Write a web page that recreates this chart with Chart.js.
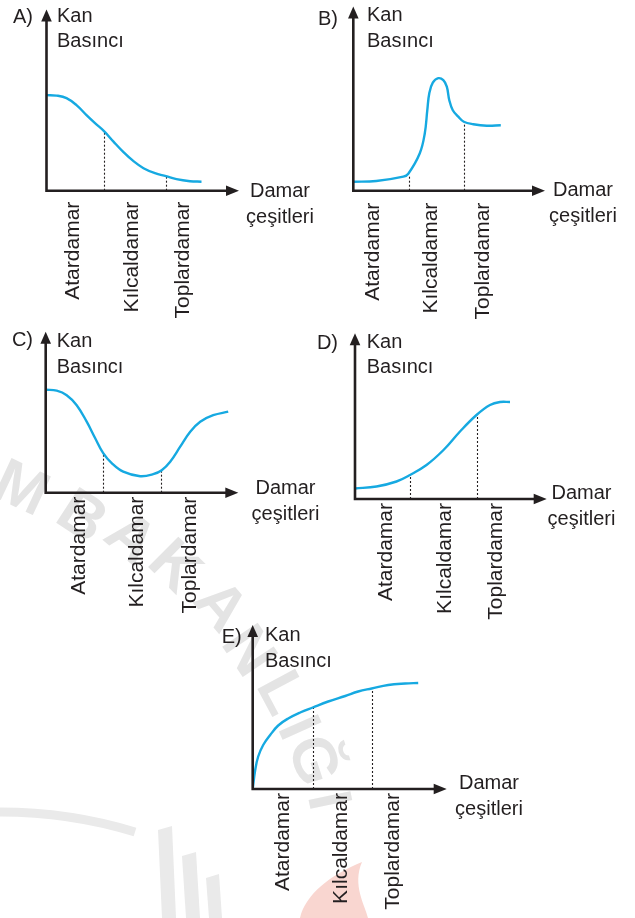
<!DOCTYPE html>
<html>
<head>
<meta charset="utf-8">
<script src="https://cdn.jsdelivr.net/npm/chart.js@4.4.1/dist/chart.umd.min.js"></script>
<style>
  html, body { margin: 0; padding: 0; background: #fff; }
  #page { position: relative; width: 635px; height: 918px; overflow: hidden; }
  #page canvas, #page svg { position: absolute; left: 0; top: 0; }
  .wm { position: absolute; color: #e4e4e4; font: bold 62px "Liberation Sans", Arial, sans-serif;
        transform-origin: center; line-height: 1; }
</style>
</head>
<body>
<div id="page">
  <svg width="635" height="918">
    <path d="M0,812 Q70,812 135,832" fill="none" stroke="#eaeaea" stroke-width="9"/>
    <polygon points="158,830 172,826 176,918 162,918" fill="#eaeaea"/>
    <polygon points="182,856 196,852 200,918 186,918" fill="#eaeaea"/>
    <polygon points="206,878 219,874 222,918 209,918" fill="#eaeaea"/>
    <path d="M300,918 C305,895 330,875 362,862 C352,885 365,905 368,918 Z" fill="#f9d6d0"/>
  </svg>
</div>
<script>
const INK = "#231f20";
const BLUE = "#16a9e1";
const FONT = "Liberation Sans";

// tick labels, shared by all five graphs
const vesselTypes = ["Atardamar", "Kılcaldamar", "Toplardamar"];

// curves (x along the vessel axis, y = blood pressure, arbitrary units)
const aX = [0, 1.0, 2.0, 3.0, 4.0, 4.85, 5.75, 6.7, 7.7, 8.7, 9.7, 10.85, 11.95, 13.0, 14.35, 15.5];
const aY = [9.55, 9.5, 9.25, 8.55, 7.55, 6.75, 5.95, 4.9, 3.85, 2.95, 2.25, 1.75, 1.45, 1.15, 0.95, 0.9];
const aBorderX = [5.75, 11.95];
const aBorderY = [5.95, 1.45];

const bX = [0, 2.3, 5, 5.5, 6.65, 7.15, 7.4, 7.6, 7.95, 8.5, 9, 9.35, 9.6, 9.95, 10.5, 11.05, 12, 13.35, 14.75];
const bY = [0.9, 0.97, 1.4, 1.7, 3.75, 5.75, 8.05, 9.75, 10.8, 11.25, 11.05, 10.4, 9.05, 8.05, 7.4, 6.9, 6.65, 6.5, 6.55];
const bBorderX = [5.55, 11.05];
const bBorderY = [1.6, 6.9];

const cX = [0, 1.1, 2.1, 3.1, 4.1, 4.95, 5.75, 6.6, 7.75, 9.45, 10.75, 11.6, 12.45, 13.45, 14.45, 15.45, 16.75, 18.25];
const cY = [10.3, 10.2, 9.75, 8.75, 7.1, 5.45, 3.95, 2.95, 2.1, 1.65, 1.85, 2.25, 3.1, 4.6, 6.1, 7.1, 7.75, 8.1];
const cBorderX = [5.75, 11.55];
const cBorderY = [3.95, 2.25];

const dX = [0, 2.15, 4.15, 5.5, 7.15, 8.85, 10.5, 12.15, 13.5, 14.5, 15.5];
const dY = [1.05, 1.25, 1.75, 2.4, 3.4, 4.9, 6.75, 8.4, 9.4, 9.7, 9.7];
const dBorderX = [5.5, 12.15];
const dBorderY = [2.4, 8.4];

const eX = [0, 0.25, 0.55, 1.05, 1.75, 2.55, 3.55, 4.75, 6.0, 7.55, 9.25, 10.55, 11.9, 13.55, 15.25, 16.55];
const eY = [0, 1.9, 3.25, 4.4, 5.4, 6.35, 7.05, 7.65, 8.15, 8.75, 9.3, 9.75, 10.05, 10.4, 10.55, 10.6];
const eBorderX = [6.0, 11.9];
const eBorderY = [8.15, 10.05];

// page layout of each graph (pixels)
const panels = [
  { name: "A)", xs: aX, ys: aY, bx: aBorderX, by: aBorderY, xMax: 19.25, yMax: 18.1, ticksAt: [2.65, 8.55, 13.65],
    axisX: 46.5, axisY: 190.7, yTip: 9.5, xTip: 239, tickPad: 11,
    letter: [33, 23], yTitle: [57, 21.5], xTitle: [280, 197.3] },
  { name: "B)", xs: bX, ys: bY, bx: bBorderX, by: bBorderY, xMax: 19.17, yMax: 18.42, ticksAt: [2.0, 7.84, 13.0],
    axisX: 353.3, axisY: 190.7, yTip: 6.5, xTip: 545, tickPad: 12,
    letter: [338, 25], yTitle: [367, 21], xTitle: [583, 196] },
  { name: "C)", xs: cX, ys: cY, bx: cBorderX, by: cBorderY, xMax: 19.26, yMax: 16.1, ticksAt: [3.33, 9.16, 14.43],
    axisX: 45.7, axisY: 492.7, yTip: 331.7, xTip: 238.3, tickPad: 4,
    letter: [33, 346], yTitle: [56.7, 347], xTitle: [285.5, 494.3] },
  { name: "D)", xs: dX, ys: dY, bx: dBorderX, by: dBorderY, xMax: 19.17, yMax: 16.57, ticksAt: [3.17, 9.0, 14.1],
    axisX: 355, axisY: 499, yTip: 333.3, xTip: 546.7, tickPad: 4,
    letter: [338, 349], yTitle: [366.7, 347.5], xTitle: [581.5, 499.3] },
  { name: "E)", xs: eX, ys: eY, bx: eBorderX, by: eBorderY, xMax: 19.4, yMax: 16.4, ticksAt: [3.06, 8.9, 14.06],
    axisX: 252.7, axisY: 789, yTip: 625, xTip: 446.7, tickPad: 4,
    letter: [241.7, 643], yTitle: [265, 641.3], xTitle: [489, 789.3] },
];

// arrows, dotted guide lines and the axis captions
const decor = {
  id: "decor",
  beforeDatasetsDraw(chart, args, p) {
    const { ctx, scales: { x, y } } = chart;
    ctx.save();
    ctx.strokeStyle = INK;
    ctx.lineWidth = 1.1;
    ctx.setLineDash([2, 2]);
    p.bx.forEach((v, i) => {
      const px = Math.round(x.getPixelForValue(v)) + 0.5;
      ctx.beginPath();
      ctx.moveTo(px, y.getPixelForValue(0));
      ctx.lineTo(px, y.getPixelForValue(p.by[i]));
      ctx.stroke();
    });
    ctx.restore();
  },
  afterDatasetsDraw(chart, args, p) {
    const { ctx, chartArea: a } = chart;
    ctx.save();
    ctx.strokeStyle = INK;
    ctx.fillStyle = INK;
    ctx.lineWidth = 2.6;
    ctx.beginPath();
    ctx.moveTo(a.left, a.top + 10);
    ctx.lineTo(a.left, a.bottom);
    ctx.lineTo(a.right - 10, a.bottom);
    ctx.stroke();
    // arrow heads
    ctx.beginPath();
    ctx.moveTo(a.left, a.top);
    ctx.lineTo(a.left - 5.3, a.top + 12);
    ctx.lineTo(a.left + 5.3, a.top + 12);
    ctx.closePath();
    ctx.fill();
    ctx.beginPath();
    ctx.moveTo(a.right, a.bottom);
    ctx.lineTo(a.right - 13, a.bottom - 5.3);
    ctx.lineTo(a.right - 13, a.bottom + 5.3);
    ctx.closePath();
    ctx.fill();

    ctx.font = `20px "${FONT}"`;
    ctx.textBaseline = "alphabetic";
    ctx.textAlign = "right";
    ctx.fillText(p.name, p.letter[0], p.letter[1]);
    ctx.textAlign = "left";
    ctx.fillText("Kan", p.yTitle[0], p.yTitle[1]);
    ctx.fillText("Basıncı", p.yTitle[0], p.yTitle[1] + 25.5);
    ctx.textAlign = "center";
    ctx.fillText("Damar", p.xTitle[0], p.xTitle[1]);
    ctx.fillText("çeşitleri", p.xTitle[0], p.xTitle[1] + 25.5);
    ctx.restore();
  },
};

const page = document.getElementById("page");

// faint watermark letters behind the graphs
const wmLetters = ["M", "B", "A", "K", "A", "N", "L", "I", "Ğ", "I"];
const wmSpots = [[22, 487, 25], [83, 515, 33], [132, 537, 40], [176, 565, 45], [222, 605, 50],
                 [250, 650, 56], [283, 692, 62], [300, 727, 66], [315, 760, 72], [330, 800, 78]];
wmLetters.forEach((ch, i) => {
  const s = document.createElement("span");
  s.className = "wm";
  s.textContent = ch;
  const [cx, cy, rot] = wmSpots[i];
  s.style.left = cx + "px";
  s.style.top = cy + "px";
  s.style.transform = `translate(-50%, -50%) rotate(${rot}deg)`;
  page.appendChild(s);
});

panels.forEach((p) => {
  const canvas = document.createElement("canvas");
  canvas.width = 635;
  canvas.height = 918;
  page.appendChild(canvas);

  new Chart(canvas, {
    type: "line",
    data: {
      datasets: [
        {
          data: p.xs.map((v, i) => ({ x: v, y: p.ys[i] })),
          borderColor: BLUE,
          borderWidth: 2.4,
          pointRadius: 0,
          tension: 0.4,
          fill: false,
        },
      ],
    },
    options: {
      responsive: false,
      animation: false,
      layout: { padding: { left: p.axisX, top: p.yTip, right: 635 - p.xTip, bottom: 0 } },
      plugins: { legend: { display: false }, tooltip: { enabled: false }, decor: p },
      scales: {
        x: {
          type: "linear",
          min: 0,
          max: p.xMax,
          grid: { display: false, drawTicks: false },
          border: { display: false },
          afterBuildTicks: (s) => { s.ticks = p.ticksAt.map((v) => ({ value: v })); },
          afterFit: (s) => { s.height = 918 - p.axisY; },
          ticks: {
            autoSkip: false,
            minRotation: 90,
            maxRotation: 90,
            padding: p.tickPad,
            color: INK,
            font: { family: FONT, size: 21 },
            callback: (v, i) => vesselTypes[i],
          },
        },
        y: { display: false, min: 0, max: p.yMax },
      },
    },
    plugins: [decor],
  });
});
</script>
</body>
</html>
